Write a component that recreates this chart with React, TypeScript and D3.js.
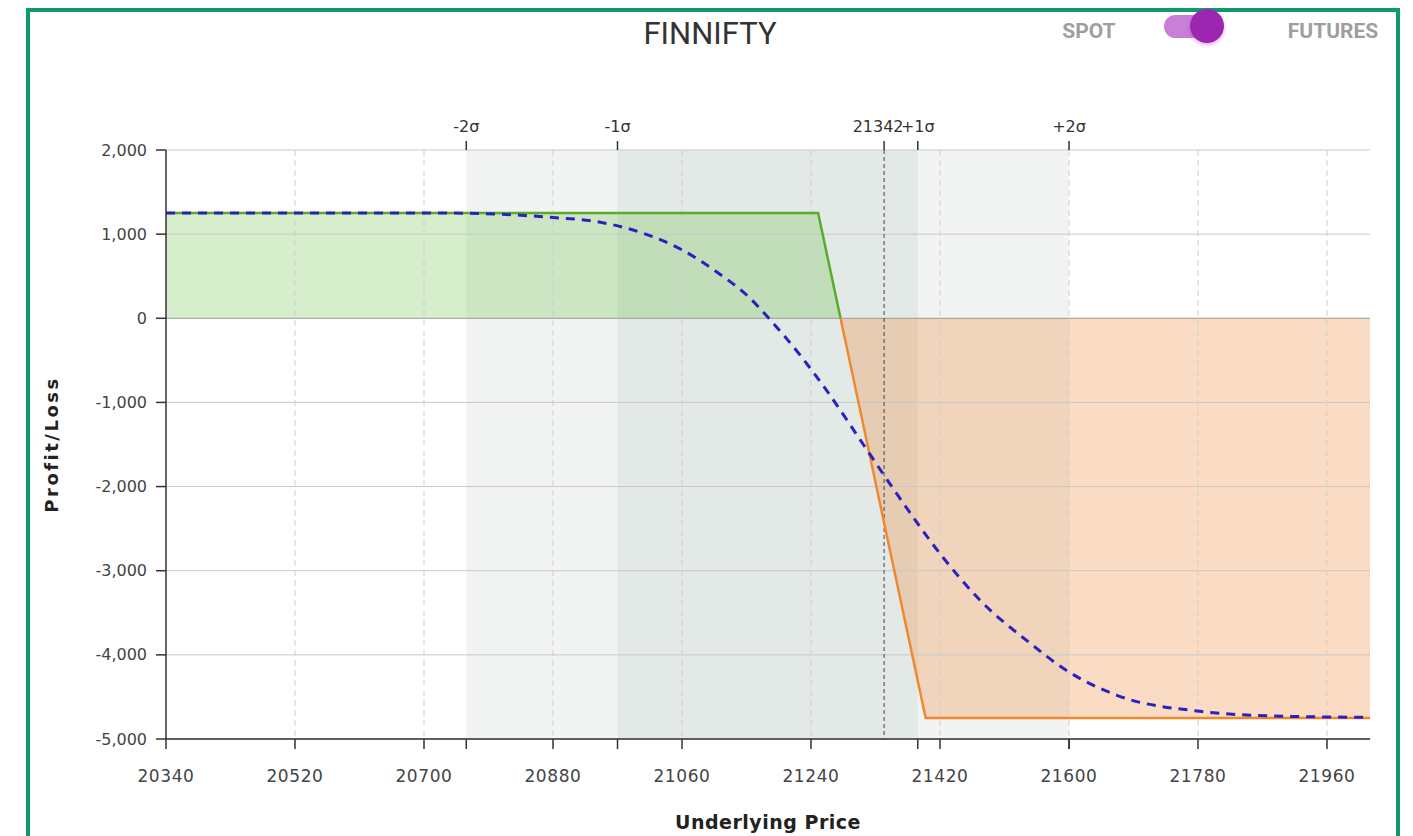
import React from 'react';
import * as d3 from 'd3';

const W = 1413;
const H = 836;
const MARGIN = { top: 150, right: 43, bottom: 97, left: 166 };

const X_TICKS = [20340, 20520, 20700, 20880, 21060, 21240, 21420, 21600, 21780, 21960];
const Y_TICKS = [2000, 1000, 0, -1000, -2000, -3000, -4000, -5000];
const X_DOMAIN = [20340, 22020];
const Y_DOMAIN = [-5000, 2000];

const SIGMA_LABELS = ['-2σ', '-1σ', '+1σ', '+2σ'];
const SIGMA_VALUES = [20759, 20970, 21389, 21600];
const SPOT = 21342;

// expiry payoff
const EXPIRY_X = [20340, 21250, 21400, 22020];
const EXPIRY_Y = [1250, 1250, -4750, -4750];

// today's P/L (dashed)
const TODAY_X = [20340, 20736, 20876, 20946, 21006, 21061, 21109, 21155, 21179, 21225, 21262, 21313, 21360, 21424, 21476, 21546, 21592, 21667, 21783, 21899, 22016];
const TODAY_Y = [1250, 1250, 1200, 1141, 1010, 808, 547, 238, 20, -440, -860, -1500, -2090, -2840, -3352, -3863, -4160, -4481, -4671, -4730, -4742];

const FONT = '"DejaVu Sans", Verdana, sans-serif';

const App = () => {
  const boundsWidth = W - MARGIN.left - MARGIN.right;
  const boundsHeight = H - MARGIN.top - MARGIN.bottom;
  const x = d3.scaleLinear().domain(X_DOMAIN).range([0, boundsWidth]);
  const y = d3.scaleLinear().domain(Y_DOMAIN).range([boundsHeight, 0]);
  const y0 = y(0);
  const fmt = (v: number) => d3.format(',')(v).replace('−', '-');

  const expiry = EXPIRY_X.map((v, i) => [v, EXPIRY_Y[i]] as [number, number]);
  const today = TODAY_X.map((v, i) => [v, TODAY_Y[i]] as [number, number]);

  const area = d3.area<[number, number]>()
    .x((d) => x(d[0]))
    .y0(y0)
    .y1((d) => y(d[1]));
  const line = d3.line<[number, number]>()
    .x((d) => x(d[0]))
    .y((d) => y(d[1]));
  const smooth = d3.line<[number, number]>()
    .x((d) => x(d[0]))
    .y((d) => y(d[1]))
    .curve(d3.curveMonotoneX);

  const topMarks = [...SIGMA_VALUES, SPOT];

  return (
    <div style={{ position: 'absolute', left: 0, top: 0, width: W, height: H, background: '#fff' }}>
      <svg width={W} height={H} style={{ display: 'block' }}>
        <defs>
          <clipPath id="above">
            <rect x={-5} y={-5} width={boundsWidth + 10} height={y0 + 5} />
          </clipPath>
          <clipPath id="below">
            <rect x={-5} y={y0} width={boundsWidth + 10} height={boundsHeight - y0 + 5} />
          </clipPath>
          <filter id="shadow" x="-50%" y="-50%" width="200%" height="200%">
            <feDropShadow dx="0" dy="2" stdDeviation="2" floodColor="#9c27b0" floodOpacity="0.35" />
          </filter>
        </defs>

        {/* frame */}
        <rect x={28} y={10} width={1370} height={H + 20} fill="none" stroke="#0f9a6e" strokeWidth={4} />

        {/* header */}
        <text x={710} y={44} textAnchor="middle" fontFamily="Roboto, sans-serif" fontSize={31} fill="#333">FINNIFTY</text>
        <text x={1089} y={38} textAnchor="middle" fontFamily="Roboto, sans-serif" fontWeight="bold" fontSize={21} fill="#9e9e9e">SPOT</text>
        <text x={1333} y={38} textAnchor="middle" fontFamily="Roboto, sans-serif" fontWeight="bold" fontSize={21} fill="#9e9e9e">FUTURES</text>
        <rect x={1164} y={15} width={50} height={23} rx={11.5} fill="#c97fd8" />
        <circle cx={1207} cy={26} r={17} fill="#9c27b0" filter="url(#shadow)" />

        <g transform={`translate(${MARGIN.left},${MARGIN.top})`}>
          {/* sigma bands */}
          <rect x={x(SIGMA_VALUES[0])} y={0} width={x(SIGMA_VALUES[3]) - x(SIGMA_VALUES[0])} height={boundsHeight} fill="#f1f4f2" />
          <rect x={x(SIGMA_VALUES[1])} y={0} width={x(SIGMA_VALUES[2]) - x(SIGMA_VALUES[1])} height={boundsHeight} fill="#e3e9e6" />

          {/* fills */}
          <path d={area(expiry) ?? ''} fill="rgba(100,190,60,0.26)" clipPath="url(#above)" />
          <path d={area(expiry) ?? ''} fill="rgba(240,140,60,0.3)" clipPath="url(#below)" />

          {/* grid */}
          {Y_TICKS.map((t) => (
            <line key={`gy${t}`} x1={0} x2={boundsWidth} y1={y(t)} y2={y(t)}
              stroke={t === 0 ? '#999' : '#c8c8c8'} strokeWidth={1} />
          ))}
          {X_TICKS.slice(1).map((t) => (
            <line key={`gx${t}`} x1={x(t)} x2={x(t)} y1={0} y2={boundsHeight}
              stroke="#cfcfcf" strokeDasharray="6,4" strokeWidth={1} />
          ))}
          <line x1={x(SPOT)} x2={x(SPOT)} y1={0} y2={boundsHeight} stroke="#444" strokeDasharray="4,3" strokeWidth={1} />

          {/* lines */}
          <path d={line(expiry) ?? ''} fill="none" stroke="#5aab2a" strokeWidth={2.5} clipPath="url(#above)" />
          <path d={line(expiry) ?? ''} fill="none" stroke="#f0892e" strokeWidth={2.5} clipPath="url(#below)" />
          <path d={smooth(today) ?? ''} fill="none" stroke="#2b20c0" strokeWidth={3} strokeDasharray="9,7" />

          {/* y axis */}
          <line x1={0} x2={0} y1={0} y2={boundsHeight} stroke="#333" strokeWidth={1.5} />
          {Y_TICKS.map((t) => (
            <g key={`ty${t}`} transform={`translate(0,${y(t)})`}>
              <line x1={-10} x2={0} stroke="#333" strokeWidth={1.5} />
              <text x={-19} dy="0.35em" textAnchor="end" fontFamily={FONT} fontSize={16} fill="#444">
                {fmt(t)}
              </text>
            </g>
          ))}

          {/* bottom axis */}
          <line x1={0} x2={boundsWidth} y1={boundsHeight} y2={boundsHeight} stroke="#333" strokeWidth={1.5} />
          {[...X_TICKS, ...SIGMA_VALUES].map((t, i) => (
            <line key={`tb${i}`} x1={x(t)} x2={x(t)} y1={boundsHeight} y2={boundsHeight + 10} stroke="#333" strokeWidth={1.5} />
          ))}
          {X_TICKS.map((t) => (
            <text key={`lb${t}`} x={x(t)} y={boundsHeight + 43} textAnchor="middle" fontFamily={FONT} fontSize={17} letterSpacing={0.6} fill="#444">
              {t}
            </text>
          ))}

          {/* top axis */}
          {topMarks.map((t, i) => (
            <line key={`tt${i}`} x1={x(t)} x2={x(t)} y1={-9} y2={0} stroke="#333" strokeWidth={1.5} />
          ))}
          {SIGMA_VALUES.map((t, i) => (
            <text key={`ls${i}`} x={x(t)} y={-18} textAnchor="middle" fontFamily={FONT} fontSize={16} fill="#333">
              {SIGMA_LABELS[i]}
            </text>
          ))}
          <text x={x(SPOT) - 6} y={-18} textAnchor="middle" fontFamily={FONT} fontSize={16} fill="#333">{SPOT}</text>

          {/* axis titles */}
          <text transform={`translate(-108,${boundsHeight / 2}) rotate(-90)`} textAnchor="middle"
            fontFamily={FONT} fontWeight="bold" fontSize={18} letterSpacing={2.5} fill="#222">Profit/Loss</text>
        </g>
        <text x={768} y={829} textAnchor="middle" fontFamily={FONT} fontWeight="bold" fontSize={19} letterSpacing={0.5} fill="#222">Underlying Price</text>
      </svg>
    </div>
  );
};

export default App;
